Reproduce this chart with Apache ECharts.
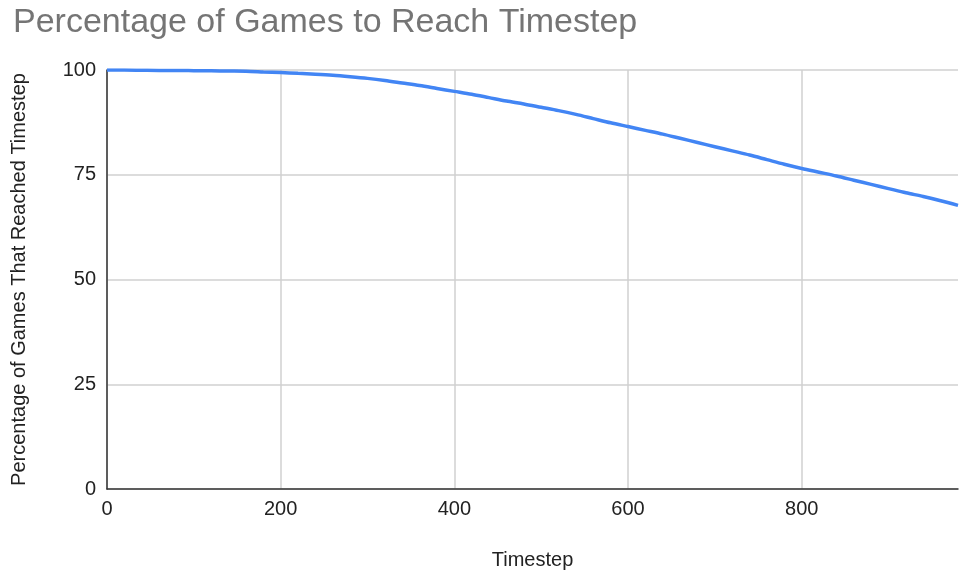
<!DOCTYPE html>
<html lang="en">
<head>
    <meta charset="UTF-8">
    <title>Percentage of Games to Reach Timestep</title>
    <script src="https://cdn.jsdelivr.net/npm/echarts@6/dist/echarts.min.js"></script>
    <style>
        html, body { margin: 0; padding: 0; background: #fff; }
        #main { width: 961px; height: 575px; }
    </style>
</head>
<body>
<div id="main"></div>
<script type="text/javascript">
    // timestep sampled every 20 steps
    var timesteps = [0, 20, 40, 60, 80, 100, 120, 140, 160, 180,
        200, 220, 240, 260, 280, 300, 320, 340, 360, 380,
        400, 420, 440, 460, 480, 500, 520, 540, 560, 580,
        600, 620, 640, 660, 680, 700, 720, 740, 760, 780,
        800, 820, 840, 860, 880, 900, 920, 940, 960, 980];
    var percentReached = [100, 100, 99.95, 99.9, 99.9, 99.85, 99.8, 99.75, 99.7, 99.55,
        99.4, 99.2, 99.0, 98.75, 98.4, 98.0, 97.5, 96.9, 96.3, 95.6,
        94.9, 94.2, 93.4, 92.6, 91.9, 91.1, 90.3, 89.4, 88.4, 87.4,
        86.5, 85.6, 84.7, 83.7, 82.7, 81.7, 80.7, 79.7, 78.6, 77.5,
        76.5, 75.6, 74.7, 73.7, 72.7, 71.7, 70.7, 69.8, 68.8, 67.7];
    var xTicks = [0, 200, 400, 600, 800];
    var yTicks = [0, 25, 50, 75, 100];

    var points = [];
    for (var i = 0; i < timesteps.length; i++) {
        points.push([timesteps[i], percentReached[i]]);
    }

    var myChart = echarts.init(document.getElementById("main"));
    var font = "'Liberation Sans', Arial, sans-serif";

    var option = {
        animation: false,
        title: {
            text: 'Percentage of Games to Reach Timestep',
            left: 8,
            top: 1,
            textStyle: { fontFamily: font, fontSize: 34, fontWeight: 'normal', color: '#757575' }
        },
        grid: { left: 107, right: 0, top: 70, bottom: 85, containLabel: false },
        xAxis: {
            type: 'value',
            min: 0,
            max: 980,
            interval: 200,
            name: 'Timestep',
            nameLocation: 'middle',
            nameGap: 61,
            nameTextStyle: { fontFamily: font, fontSize: 20, color: '#222' },
            axisLine: { show: true, lineStyle: { color: '#333', width: 1.5 } },
            axisTick: { show: false },
            axisLabel: {
                fontFamily: font, fontSize: 20, color: '#222', margin: 10,
                formatter: function (v) { return xTicks.indexOf(v) >= 0 ? String(v) : ''; }
            },
            splitLine: { show: true, showMaxLine: false, lineStyle: { color: '#d0d0d0', width: 1.5 } }
        },
        yAxis: {
            type: 'value',
            min: 0,
            max: 100,
            interval: 25,
            name: 'Percentage of Games That Reached Timestep',
            nameLocation: 'middle',
            nameGap: 78,
            nameTextStyle: { fontFamily: font, fontSize: 20, color: '#222' },
            axisLine: { show: true, lineStyle: { color: '#333', width: 1.5 } },
            axisTick: { show: false },
            axisLabel: {
                fontFamily: font, fontSize: 20, color: '#222', margin: 11,
                formatter: function (v) { return yTicks.indexOf(v) >= 0 ? String(v) : ''; }
            },
            splitLine: { show: true, lineStyle: { color: '#d0d0d0', width: 1.5 } }
        },
        series: [{
            type: 'line',
            data: points,
            showSymbol: false,
            smooth: 0.3,
            lineStyle: { color: '#4285F4', width: 3.5 },
            itemStyle: { color: '#4285F4' }
        }]
    };
    myChart.setOption(option);
</script>
</body>
</html>
